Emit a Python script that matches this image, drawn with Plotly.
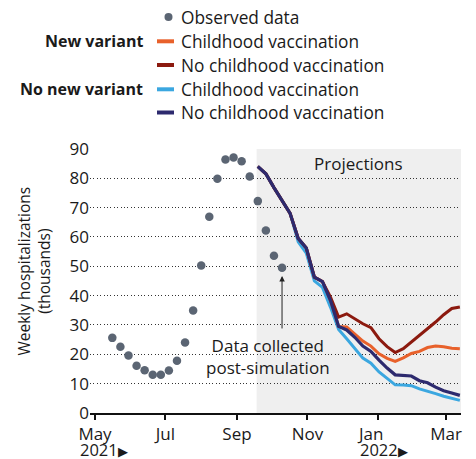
import plotly.graph_objects as go
import pandas as pd

# ---------------- data ----------------
obs_dates = pd.date_range("2021-05-16", periods=22, freq="7D")
obs_values = [25.6, 22.6, 19.6, 16.1, 14.6, 13.0, 13.0, 14.5, 17.8, 24.0, 34.9,
              50.3, 66.9, 79.8, 86.4, 87.1, 85.8, 80.6, 72.2, 62.2, 53.6, 49.5]

proj_dates = pd.date_range("2021-09-19", periods=26, freq="7D")
novar_novacc = [84.0, 81.5, 76.8, 72.3, 68.0, 59.5, 56.2, 46.3, 44.8, 38.3, 29.5, 28.3, 25.8,
                22.8, 21.0, 18.0, 15.3, 13.0, 12.8, 12.6, 11.0, 10.3, 8.8, 7.6, 6.8, 6.0]
novar_vacc = [84.0, 81.5, 76.8, 72.3, 68.0, 58.3, 54.5, 45.0, 42.8, 36.0, 28.5, 25.3, 21.8,
              18.7, 17.0, 14.0, 11.8, 9.6, 9.5, 9.3, 8.2, 7.5, 6.6, 5.7, 4.9, 4.3]
newvar_novacc = [84.0, 81.5, 76.8, 72.3, 68.0, 59.5, 56.2, 46.3, 44.8, 39.5, 32.7, 33.8, 32.0,
                 30.4, 29.1, 25.3, 22.6, 20.6, 21.9, 24.1, 26.4, 28.5, 31.0, 33.5, 35.6, 36.1]
newvar_vacc = [84.0, 81.5, 76.8, 72.3, 68.0, 59.5, 56.2, 46.3, 44.8, 38.3, 29.5, 29.3, 26.8,
               24.5, 22.8, 20.2, 18.6, 17.6, 18.8, 20.3, 21.0, 22.3, 22.8, 22.6, 22.1, 21.9]

tick_vals = ["2021-05-01", "2021-07-01", "2021-09-01", "2021-11-01", "2022-01-01", "2022-03-01"]
tick_text = ["May", "Jul", "Sep", "Nov", "Jan\u00a0\u00a0\u00a0", "Mar"]
year_labels = ["2021", "2022"]
y_ticks = [0, 10, 20, 30, 40, 50, 60, 70, 80, 90]

projection_start = "2021-09-18"
x_range = ["2021-04-26 16:00", "2022-03-14"]

# ---------------- style ----------------
FONT = "Open Sans"
C_OBS = "#5b6573"
C_NAVY = "#2d2a6e"
C_LBLUE = "#3ba7e0"
C_DRED = "#8c1a0f"
C_ORANGE = "#e8612b"
TXT = "#1a1a1a"

# the page body has an 8px margin, so the figure is offset by (8, 8)
OFF = 8

fig = go.Figure()

fig.add_trace(go.Scatter(x=proj_dates, y=novar_vacc, mode="lines",
                         line=dict(color=C_LBLUE, width=3), showlegend=False))
fig.add_trace(go.Scatter(x=proj_dates, y=newvar_vacc, mode="lines",
                         line=dict(color=C_ORANGE, width=3), showlegend=False))
fig.add_trace(go.Scatter(x=proj_dates, y=newvar_novacc, mode="lines",
                         line=dict(color=C_DRED, width=3), showlegend=False))
fig.add_trace(go.Scatter(x=proj_dates, y=novar_novacc, mode="lines",
                         line=dict(color=C_NAVY, width=3.2), showlegend=False))
fig.add_trace(go.Scatter(x=obs_dates, y=obs_values, mode="markers",
                         marker=dict(color=C_OBS, size=8.5), showlegend=False))

# projection shading
fig.add_shape(type="rect", xref="x", yref="y", x0=projection_start, x1=x_range[1],
              y0=0, y1=90, fillcolor="#efefef", line=dict(width=0), layer="below")

# ---------------- legend (custom) ----------------
# screen-pixel geometry of the plot area
L = 90.0
W = 371.0
B = 413.0
H = 265.0


def px(xp):
    return (xp - L) / W


def py(yp):
    return (B - yp) / H


rows = [17.0, 41.3, 65.0, 89.3, 112.5]
labels = ["Observed data", "Childhood vaccination", "No childhood vaccination",
          "Childhood vaccination", "No childhood vaccination"]
line_cols = [None, C_ORANGE, C_DRED, C_LBLUE, C_NAVY]

for r, lab, col in zip(rows, labels, line_cols):
    fig.add_annotation(xref="paper", yref="paper", x=px(179), y=py(r), text=lab,
                       showarrow=False, xanchor="left", yanchor="middle",
                       font=dict(family=FONT, size=17.3, color=TXT))
    if col is None:
        fig.add_shape(type="circle", xref="paper", yref="paper",
                      xsizemode="pixel", ysizemode="pixel",
                      xanchor=px(168.5), yanchor=py(r), x0=-4, x1=4, y0=-4, y1=4,
                      fillcolor=C_OBS, line=dict(width=0))
    else:
        fig.add_shape(type="line", xref="paper", yref="paper",
                      x0=px(157), x1=px(174), y0=py(r), y1=py(r),
                      line=dict(color=col, width=4))

for r, lab in [(41.3, "New variant"), (89.3, "No new variant")]:
    fig.add_annotation(xref="paper", yref="paper", x=px(145), y=py(r),
                       text="<b>" + lab + "</b>", showarrow=False,
                       xanchor="right", yanchor="middle",
                       font=dict(family=FONT, size=16, color=TXT))

# ---------------- annotations ----------------
fig.add_annotation(xref="paper", yref="paper", x=px(358), y=py(163), text="Projections",
                   showarrow=False, xanchor="center", yanchor="middle",
                   font=dict(family=FONT, size=17, color=TXT))

fig.add_annotation(xref="paper", yref="paper", x=px(268), y=py(356),
                   text="Data collected<br>post-simulation", showarrow=False,
                   xanchor="center", yanchor="middle",
                   font=dict(family=FONT, size=17, color=TXT))

fig.add_annotation(xref="x", yref="y", x=obs_dates[-1], y=46.7, text="",
                   showarrow=True, ax=0, ay=54, arrowhead=2, arrowsize=1.1,
                   arrowwidth=1, arrowcolor="#222")

fig.add_annotation(xref="paper", yref="paper", x=px(33.5), y=py(271),
                   text="Weekly hospitalizations<br>(thousands)", textangle=-90,
                   showarrow=False, xanchor="center", yanchor="middle",
                   font=dict(family=FONT, size=15.5, color=TXT))

for xpix, yr in zip([78, 357.7], year_labels):
    fig.add_annotation(xref="paper", yref="paper", x=px(xpix), y=py(449.5),
                       text=yr + "<span style='font-size:13px'>\u25B6</span>",
                       showarrow=False, xanchor="left", yanchor="middle",
                       font=dict(family=FONT, size=16.5, color=TXT))

# ---------------- axes ----------------
fig.update_xaxes(type="date", range=x_range, tickvals=tick_vals, ticktext=tick_text,
                 showgrid=False, zeroline=False, showline=True, linecolor="#111",
                 linewidth=2, ticks="outside", ticklen=5, tickwidth=1.5, tickcolor="#111",
                 tickfont=dict(family=FONT, size=17, color=TXT), fixedrange=True)
fig.update_yaxes(range=[0, 90.3], tickvals=y_ticks, showgrid=True, gridcolor="#333",
                 griddash="1px,2.4px", gridwidth=1, zeroline=False, showline=False,
                 ticks="", tickfont=dict(family=FONT, size=17, color=TXT), fixedrange=True)

fig.update_layout(width=476 - OFF, height=459 - OFF,
                  margin=dict(l=90 - OFF, r=15, t=148 - OFF, b=46),
                  paper_bgcolor="white", plot_bgcolor="white", showlegend=False,
                  font=dict(family=FONT, color=TXT))

fig.write_html("out.html")
